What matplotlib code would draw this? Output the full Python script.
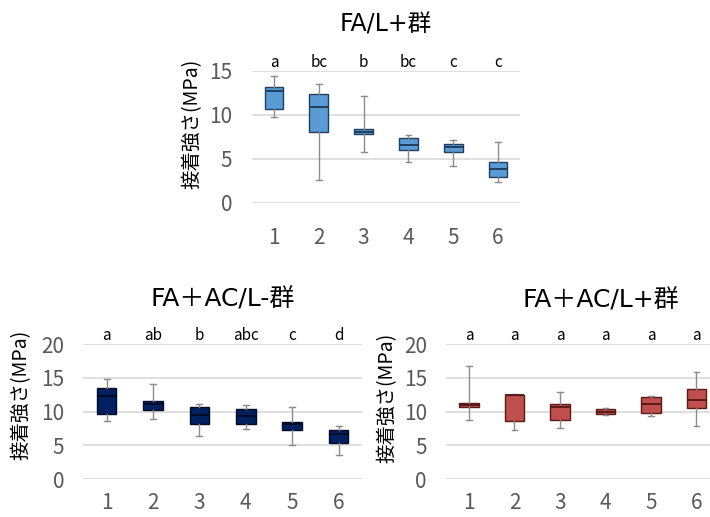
import matplotlib.pyplot as plt

plt.rcParams['font.family'] = ['Noto Sans CJK JP', 'DejaVu Sans']

groups = ['1', '2', '3', '4', '5', '6']

# FA/L+群
top_min = [9.8, 2.6, 5.8, 4.6, 4.2, 2.4]
top_q1 = [10.7, 8.0, 7.8, 6.0, 5.8, 2.9]
top_med = [12.7, 10.9, 8.1, 6.6, 6.3, 3.8]
top_q3 = [13.2, 12.4, 8.4, 7.4, 6.7, 4.7]
top_max = [14.4, 13.5, 12.1, 7.7, 7.1, 6.9]
top_letters = ['a', 'bc', 'b', 'bc', 'c', 'c']

# FA+AC/L-群
left_min = [8.6, 8.9, 6.3, 7.4, 5.0, 3.6]
left_q1 = [9.6, 10.2, 8.2, 8.2, 7.2, 5.4]
left_med = [12.3, 11.1, 9.5, 9.3, 8.2, 6.7]
left_q3 = [13.5, 11.6, 10.6, 10.4, 8.5, 7.2]
left_max = [14.8, 14.1, 11.1, 10.9, 10.6, 7.8]
left_letters = ['a', 'ab', 'b', 'abc', 'c', 'd']

# FA+AC/L+群
right_min = [8.7, 7.3, 7.6, 9.5, 9.4, 7.9]
right_q1 = [10.6, 8.6, 8.7, 9.6, 9.8, 10.5]
right_med = [10.9, 12.5, 10.7, 10.0, 11.1, 11.7]
right_q3 = [11.2, 12.5, 11.1, 10.4, 12.2, 13.4]
right_max = [16.8, 12.6, 12.9, 10.5, 12.3, 15.8]
right_letters = ['a', 'a', 'a', 'a', 'a', 'a']


def draw(ax, mins, q1s, meds, q3s, maxs, letters, face, edge, ymax, title,
         xpad, tpad, tx, lab_x, lab_y):
    stats = []
    for lo, a, m, b, hi in zip(mins, q1s, meds, q3s, maxs):
        stats.append({'whislo': lo, 'q1': a, 'med': m, 'q3': b, 'whishi': hi, 'fliers': []})
    pos = list(range(1, len(stats) + 1))
    ax.bxp(stats, positions=pos, widths=0.42, capwidths=0.13, patch_artist=True,
           showfliers=False,
           boxprops=dict(facecolor=face, edgecolor=edge, linewidth=1.0),
           medianprops=dict(color=edge, linewidth=1.4),
           whiskerprops=dict(color='#8c8c8c', linewidth=1.0),
           capprops=dict(color='#8c8c8c', linewidth=1.0))
    ax.set_xlim(0.5, len(stats) + 0.5)
    ax.set_ylim(0, ymax)
    ax.set_yticks(range(0, ymax + 1, 5))
    ax.set_xticks(pos)
    ax.set_xticklabels(groups)
    ax.yaxis.grid(True, color='#d9d9d9', linewidth=1.2)
    ax.set_axisbelow(True)
    for s in ax.spines.values():
        s.set_visible(False)
    ax.tick_params(length=0, labelcolor='#595959')
    ax.tick_params(axis='x', pad=xpad, labelsize=15)
    ax.tick_params(axis='y', pad=14, labelsize=15)
    ax.set_ylabel('接着強さ(MPa)', fontsize=14)
    ax.yaxis.set_label_coords(lab_x, lab_y)
    ax.set_title(title, fontsize=17 if ymax == 15 else 18, pad=tpad, x=tx,
                 family=['DejaVu Sans', 'Noto Sans CJK JP'])
    for p, t in zip(pos, letters):
        ax.text(p, ymax, t, ha='center', va='bottom', fontsize=11)


fig = plt.figure(figsize=(7.1, 5.17), dpi=100)
ax1 = fig.add_axes([0.3544, 0.6074, 0.3786, 0.2559])
ax2 = fig.add_axes([0.1176, 0.0735, 0.392, 0.2611])
ax3 = fig.add_axes([0.6285, 0.0735, 0.3845, 0.2611])

draw(ax1, top_min, top_q1, top_med, top_q3, top_max, top_letters,
     '#5b9bd5', '#1f3f5f', 15, 'FA/L+群', 17, 28, 0.5, -0.181, 0.595)
draw(ax2, left_min, left_q1, left_med, left_q3, left_max, left_letters,
     '#002060', '#000b26', 20, 'FA＋AC/L-群', 9, 27, 0.5, -0.185, 0.62)
draw(ax3, right_min, right_q1, right_med, right_q3, right_max, right_letters,
     '#c0504d', '#5a1a18', 20, 'FA＋AC/L+群', 9, 26, 0.567, -0.177, 0.6)

fig.savefig('out.png', dpi=100)
